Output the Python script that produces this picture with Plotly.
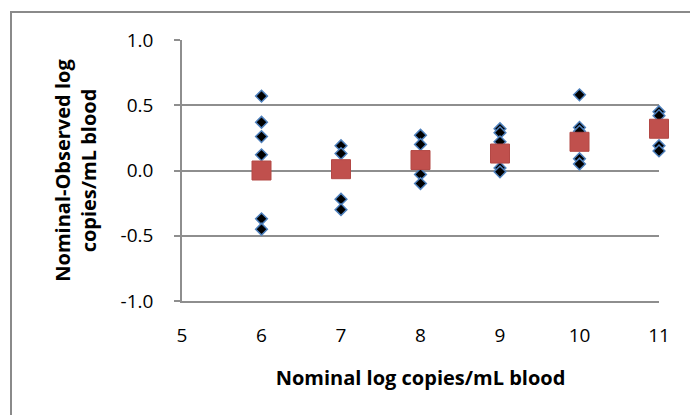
import plotly.graph_objects as go

nominal = [6, 7, 8, 9, 10, 11]
obs_x = [6, 6, 6, 6, 6, 6,
         7, 7, 7, 7,
         8, 8, 8, 8,
         9, 9, 9, 9, 9,
         10, 10, 10, 10, 10,
         11, 11, 11, 11]
obs_y = [0.57, 0.37, 0.26, 0.12, -0.37, -0.45,
         0.19, 0.13, -0.22, -0.30,
         0.27, 0.20, -0.03, -0.10,
         0.32, 0.29, 0.22, 0.02, -0.01,
         0.58, 0.33, 0.30, 0.09, 0.05,
         0.45, 0.42, 0.19, 0.15]
mean_y = [0.00, 0.01, 0.08, 0.13, 0.22, 0.32]

y_ticks = [-1.0, -0.5, 0.0, 0.5, 1.0]
x_ticks = [5, 6, 7, 8, 9, 10, 11]

FONT = "Open Sans"
GRID = "#8e8e8e"

fig = go.Figure()
fig.add_trace(go.Scatter(
    x=obs_x, y=obs_y, mode="markers",
    marker=dict(symbol="diamond", size=9, color="black",
                line=dict(color="#4f81bd", width=1.5)),
    showlegend=False, cliponaxis=False))
fig.add_trace(go.Scatter(
    x=nominal, y=mean_y, mode="markers",
    marker=dict(symbol="square", size=19, color="#c0504d",
                line=dict(color="#b34845", width=1)),
    showlegend=False, cliponaxis=False))

W, H = 691, 415
L, R, T, B = 182, 32, 40, 114
pw, ph = W - L - R, H - T - B

def px2paper_x(px):
    return (px - L) / pw

def py2paper_y(py):
    return (H - B - py) / ph

BORDER = dict(color="#8a8a8a", width=2)
fig.add_shape(type="line", xref="paper", yref="paper",
              x0=px2paper_x(10), x1=px2paper_x(690),
              y0=py2paper_y(12), y1=py2paper_y(12), line=BORDER, layer="above")
fig.add_shape(type="line", xref="paper", yref="paper",
              x0=px2paper_x(11), x1=px2paper_x(11),
              y0=py2paper_y(11), y1=py2paper_y(415), line=BORDER, layer="above")

fig.update_layout(
    width=W, height=H,
    margin=dict(l=L, r=R, t=T, b=B, autoexpand=False),
    paper_bgcolor="white", plot_bgcolor="white",
    font=dict(family=FONT, size=19, color="black"),
    xaxis=dict(range=[5, 11], tickvals=x_ticks, ticktext=[str(v) for v in x_ticks],
               showgrid=False, zeroline=False, showline=True,
               linecolor=GRID, linewidth=1.5, ticks="",
               ticklabelstandoff=16, automargin=False,
               tickfont=dict(family=FONT, size=19),
               title=dict(text="<b>Nominal log copies/mL blood</b>",
                          font=dict(family=FONT, size=20), standoff=24)),
    yaxis=dict(range=[-1.0, 1.0], tickvals=y_ticks,
               ticktext=["-1.0", "-0.5", "0.0", "0.5", "1.0"],
               showgrid=True, gridcolor=GRID, gridwidth=1.5,
               zeroline=False, showline=True, linecolor=GRID, linewidth=1.5,
               ticks="outside", ticklen=6, tickcolor=GRID, tickwidth=1.5,
               ticklabelstandoff=17, automargin=False,
               tickfont=dict(family=FONT, size=19),
               title=dict(text="<b>Nominal-Observed log<br>copies/mL blood</b>",
                          font=dict(family=FONT, size=20), standoff=19)),
)

fig.write_html("out.html", config={"displayModeBar": False},
               post_script="document.body.style.margin='0';document.body.style.padding='0';")
